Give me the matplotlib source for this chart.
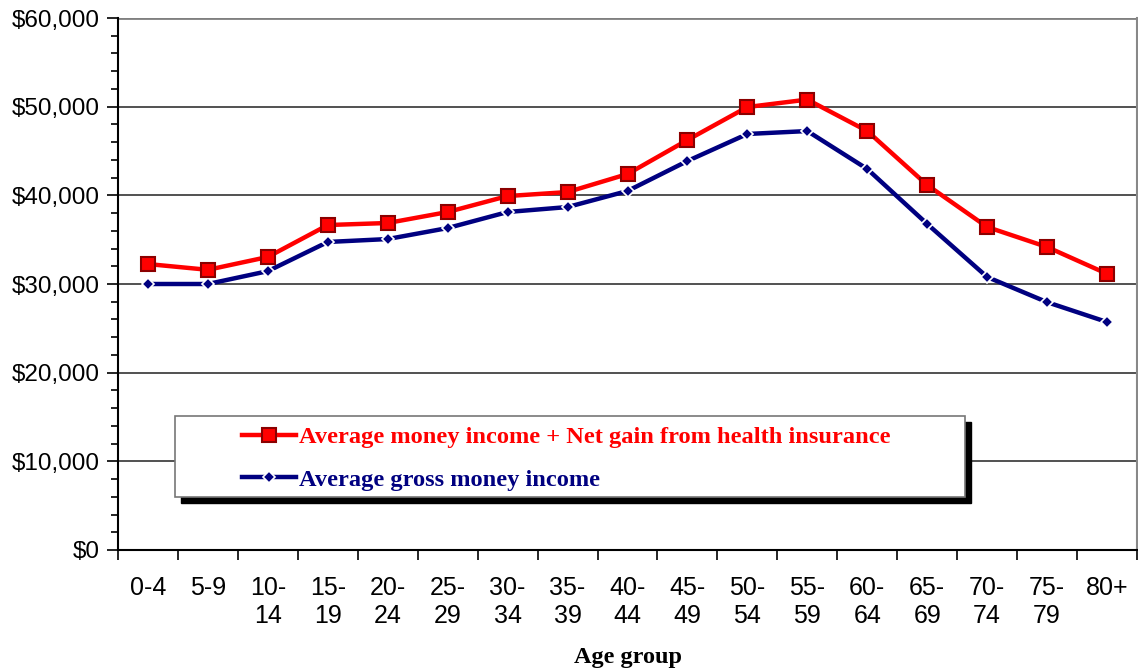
import matplotlib
matplotlib.use("Agg")
import matplotlib.pyplot as plt
from matplotlib.patches import Rectangle
from matplotlib.ticker import MultipleLocator, FixedLocator, FuncFormatter

categories = ["0-4", "5-9", "10-\n14", "15-\n19", "20-\n24", "25-\n29", "30-\n34", "35-\n39",
              "40-\n44", "45-\n49", "50-\n54", "55-\n59", "60-\n64", "65-\n69", "70-\n74",
              "75-\n79", "80+"]
income_plus_health = [32250, 31600, 33050, 36650, 36880, 38120, 39920, 40370, 42400,
                      46240, 49960, 50800, 47250, 41160, 36430, 34170, 31150]
gross_income = [30000, 30000, 31450, 34740, 35070, 36310, 38120, 38680, 40490,
                43870, 46920, 47250, 42970, 36770, 30790, 27950, 25710]
label_red = "Average money income + Net gain from health insurance"
label_blue = "Average gross money income"
xlabel = "Age group"

W, H = 1138, 670
fig = plt.figure(figsize=(W / 100, H / 100), dpi=100)
L, R, T, B = 118, 1137, 18, 550
ax = fig.add_axes([L / W, 1 - B / H, (R - L) / W, (B - T) / H])

x = list(range(len(categories)))
ax.plot(x, gross_income, color="#000080", lw=3.2, marker="D", ms=6.5,
        mfc="#000080", mec="white", mew=1.2, zorder=4, label=label_blue)
ax.plot(x, income_plus_health, color="#FF0000", lw=3.2, marker="s", ms=10.5,
        mfc="#FF0000", mec="#8B0000", mew=1.5, zorder=5, label=label_red)

ax.set_xlim(-0.5, len(categories) - 0.5)
ax.set_ylim(0, 60000)

ax.yaxis.set_major_locator(MultipleLocator(10000))
ax.yaxis.set_minor_locator(MultipleLocator(2000))
ax.yaxis.set_major_formatter(FuncFormatter(lambda v, p: f"${v:,.0f}"))
ax.tick_params(axis="y", which="major", direction="out", length=8, width=1.2,
               labelsize=17.5, pad=5)
ax.tick_params(axis="y", which="minor", direction="out", length=5, width=1.2)

ax.set_xticks(x)
ax.set_xticklabels(categories)
ax.xaxis.set_minor_locator(FixedLocator([i + 0.5 for i in range(-1, len(categories))]))
ax.tick_params(axis="x", which="major", length=0, labelsize=18, pad=19)
ax.tick_params(axis="x", which="minor", direction="out", length=7, width=1.2)
for lab in ax.get_xticklabels():
    lab.set_fontfamily("Liberation Sans")
    lab.set_linespacing(1.2)
    lab.set_verticalalignment("top")
for lab in ax.get_yticklabels():
    lab.set_fontfamily("Liberation Sans")

for v in range(10000, 60001, 10000):
    ax.axhline(v, color="#808080" if v == 60000 else "#222222",
               lw=2 if v == 60000 else 1.1, zorder=1)

ax.spines["top"].set_visible(False)
ax.spines["right"].set_color("#888888")
ax.spines["right"].set_linewidth(1.5)
ax.spines["left"].set_linewidth(1.5)
ax.spines["bottom"].set_linewidth(1.5)

ax.set_xlabel(xlabel, fontfamily="Liberation Serif", fontweight="bold", fontsize=17.5,
              labelpad=13.5)

# legend box with shadow
lx0, lx1, ly0, ly1 = 175, 965, 416, 497
def ax_coords(px, py):
    return ((px - L) / (R - L), (B - py) / (B - T))
x0, y0 = ax_coords(lx0, ly1)
x1, y1 = ax_coords(lx1, ly0)
sx, sy = 6 / (R - L), 6 / (B - T)
ax.add_patch(Rectangle((x0 + sx, y0 - sy), x1 - x0, y1 - y0, transform=ax.transAxes,
                       facecolor="black", edgecolor="black", zorder=6))
ax.add_patch(Rectangle((x0, y0), x1 - x0, y1 - y0, transform=ax.transAxes,
                       facecolor="white", edgecolor="#777777", lw=1.2, zorder=7))

handles, labels = ax.get_legend_handles_labels()
ax_h = [handles[1], handles[0]]
ax_l = [labels[1], labels[0]]
hx, hy = ax_coords(242, 426)
leg = ax.legend(ax_h, ax_l, loc="upper left", bbox_to_anchor=(hx, hy), frameon=False,
                prop={"family": "Liberation Serif", "weight": "bold", "size": 17.6},
                handlelength=2.2, handletextpad=0.15, labelspacing=0.85,
                borderaxespad=0, borderpad=0)
leg.set_zorder(8)
for t, c in zip(leg.get_texts(), ["#FF0000", "#000080"]):
    t.set_color(c)

fig.savefig("out.png", dpi=100)
